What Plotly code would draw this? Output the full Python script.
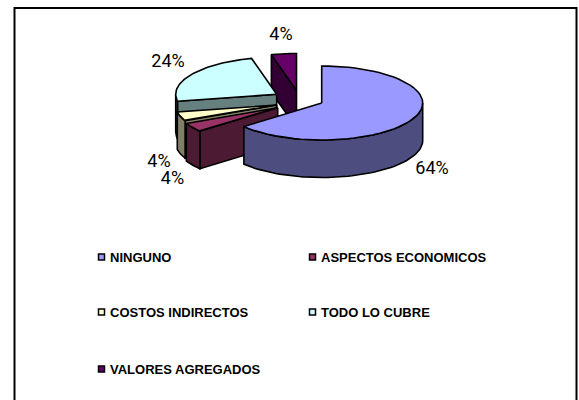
import math
import plotly.graph_objects as go

# --- data ---
categories = ["NINGUNO", "ASPECTOS ECONOMICOS", "COSTOS INDIRECTOS", "TODO LO CUBRE", "VALORES AGREGADOS"]
values = [64, 4, 4, 24, 4]

# --- styles ---
top_colors = ["#9999FF", "#993366", "#FFFFCC", "#CCFFFF", "#660066"]
side_colors = ["#4D4D80", "#4D1A33", "#808066", "#668080", "#330033"]
apexes = [(321.7, 103), (277.7, 107.7), (276.5, 105), (276.7, 94.3), (296.5, 90.5)]
label_pos = [(432, 169), (159, 162), (172.5, 179), (168, 62), (281, 35)]
swatch_pos = [(101.5, 257), (312.5, 257), (101.5, 312), (312.5, 312), (101.5, 369)]
RX, RY, DEPTH = 101, 37, 37.5
FONT_LABEL = "Roboto, Liberation Sans, Arial, sans-serif"
FONT_LEGEND = "Liberation Sans, Arial, sans-serif"

fig = go.Figure()


def point(apex, deg, drop=0.0):
    t = math.radians(deg)
    return apex[0] + RX * math.sin(t), apex[1] - RY * math.cos(t) + drop


def arc(apex, a, b, drop=0.0, n=60):
    return [point(apex, a + (b - a) * i / n, drop) for i in range(n + 1)]


def poly(pts, color):
    xs = [p[0] for p in pts] + [pts[0][0]]
    ys = [p[1] for p in pts] + [pts[0][1]]
    fig.add_trace(go.Scatter(x=xs, y=ys, mode="lines", fill="toself", fillcolor=color,
                             line=dict(color="black", width=1.6), hoverinfo="skip", showlegend=False))


total = sum(values)
angles = [0]
for v in values:
    angles.append(angles[-1] + 360 * v / total)

# back slices are painted first, the large front slice last
for i in [4, 3, 2, 1, 0]:
    a, b = angles[i], angles[i + 1]
    apex = apexes[i]
    if math.sin(math.radians(a)) < -1e-9:  # cut face at the start angle faces the viewer
        outer = point(apex, a)
        poly([apex, outer, (outer[0], outer[1] + DEPTH), (apex[0], apex[1] + DEPTH)], side_colors[i])
    lo, hi = max(a, 90), min(b, 270)
    if lo < hi:  # outer wall on the front half
        poly(arc(apex, lo, hi) + arc(apex, lo, hi, DEPTH)[::-1], side_colors[i])
    poly([apex] + arc(apex, a, b), top_colors[i])

# percentage labels
fig.add_trace(go.Scatter(
    x=[p[0] for p in label_pos], y=[p[1] for p in label_pos], mode="text",
    text=[f"{round(100 * v / total)}%" for v in values], textposition="middle center",
    textfont=dict(family=FONT_LABEL, size=18, color="black"), hoverinfo="skip", showlegend=False))

# legend
fig.add_trace(go.Scatter(
    x=[p[0] for p in swatch_pos], y=[p[1] for p in swatch_pos], mode="markers",
    marker=dict(symbol="square", size=6, color=top_colors, line=dict(color="black", width=1.5)),
    hoverinfo="skip", showlegend=False))
fig.add_trace(go.Scatter(
    x=[p[0] + 8.5 for p in swatch_pos], y=[p[1] + 2 for p in swatch_pos], mode="text",
    text=categories, textposition="middle right",
    textfont=dict(family=FONT_LEGEND, size=13, color="black", weight="bold"),
    hoverinfo="skip", showlegend=False))

fig.update_layout(
    width=579, height=400, margin=dict(l=0, r=0, t=0, b=0),
    paper_bgcolor="white", plot_bgcolor="white", showlegend=False,
    xaxis=dict(range=[0, 579], visible=False, fixedrange=True),
    yaxis=dict(range=[400, 0], visible=False, fixedrange=True),
    shapes=[dict(type="rect", xref="x", yref="y", x0=14.5, y0=8, x1=576.5, y1=420,
                 line=dict(color="black", width=2), layer="below")],
)
fig.write_html("out.html", config={"displayModeBar": False},
               post_script="document.body.style.margin='0';document.documentElement.style.overflow='hidden';")
